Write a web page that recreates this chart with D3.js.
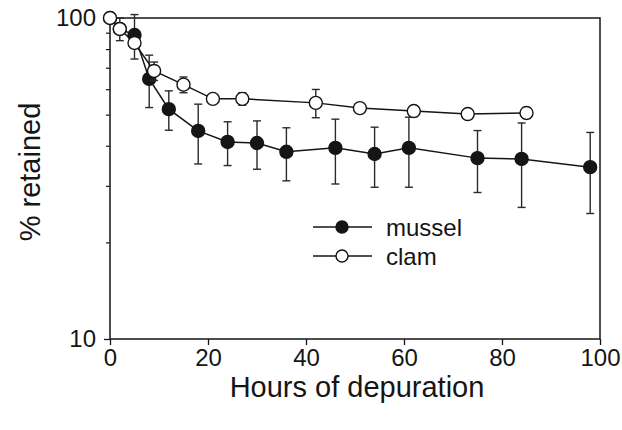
<!DOCTYPE html>
<html>
<head>
<meta charset="utf-8">
<script src="https://cdn.jsdelivr.net/npm/d3@7"></script>
<style>
  html, body { margin: 0; padding: 0; background: #fff; }
  svg { display: block; font-family: "Liberation Sans", Arial, Helvetica, sans-serif; }
</style>
</head>
<body>
<svg id="chart" width="622" height="430"></svg>
<script>
// ---- data ----
const musselHours = [0, 2, 5, 8, 12, 18, 24, 30, 36, 46, 54, 61, 75, 84, 98];
const musselValues = [100, 92.5, 88.5, 64.6, 52.0, 44.5, 41.1, 40.8, 38.3, 39.4, 37.7, 39.4, 36.6, 36.4, 34.3];
const musselErr = [0, 7.5, 14, 12, 7.3, 9.4, 6.4, 7, 7.2, 9, 8, 9.7, 8, 10.7, 9.7];

const clamHours = [0, 2, 5, 9, 15, 21, 27, 42, 51, 62, 73, 85];
const clamValues = [100, 92.4, 83.6, 68.4, 62.0, 56.0, 56.0, 54.4, 52.4, 51.3, 50.2, 50.6];
const clamErr = [0, 3, 3, 4.5, 3.5, 1, 2.5, 5.5, 0.5, 2, 0.5, 2];

const xTicks = [0, 20, 40, 60, 80, 100];
const yMajorTicks = [10, 100];
const yMinorTicks = [20, 30, 40, 50, 60, 70, 80, 90];

const seriesNames = ["mussel", "clam"];

// ---- layout ----
const svg = d3.select("#chart");
const mLeft = 110, mRight = 600, mTop = 18, mBottom = 339;

const x = d3.scaleLinear().domain([0, 100]).range([mLeft, mRight]);
const y = d3.scaleLog().domain([10, 100]).range([mBottom, mTop]);

const ink = "#151515";

// frame
svg.append("rect")
  .attr("x", mLeft).attr("y", mTop)
  .attr("width", mRight - mLeft).attr("height", mBottom - mTop)
  .attr("fill", "none").attr("stroke", ink).attr("stroke-width", 1.5);

// x axis
const xAxis = d3.axisBottom(x).tickValues(xTicks).tickFormat(d3.format("d"))
  .tickSize(6).tickPadding(4);
const gx = svg.append("g").attr("transform", `translate(0,${mBottom})`).call(xAxis);
gx.select(".domain").remove();
gx.selectAll("line").attr("stroke", ink).attr("stroke-width", 1.3);
gx.selectAll("text").attr("font-size", 24).attr("fill", ink)
  .attr("font-family", "Liberation Sans, Arial, sans-serif");

// y axis major
const yAxis = d3.axisLeft(y).tickValues(yMajorTicks).tickFormat(d3.format("d"))
  .tickSize(6).tickPadding(8);
const gy = svg.append("g").attr("transform", `translate(${mLeft},0)`).call(yAxis);
gy.select(".domain").remove();
gy.selectAll("line").attr("stroke", ink).attr("stroke-width", 1.3);
gy.selectAll("text").attr("font-size", 24).attr("fill", ink)
  .attr("font-family", "Liberation Sans, Arial, sans-serif");

// y axis minor
const yMinor = d3.axisLeft(y).tickValues(yMinorTicks).tickFormat("").tickSize(4);
const gym = svg.append("g").attr("transform", `translate(${mLeft},0)`).call(yMinor);
gym.select(".domain").remove();
gym.selectAll("line").attr("stroke", ink).attr("stroke-width", 1.2);

// axis titles
svg.append("text")
  .attr("x", (mLeft + mRight) / 2 + 2).attr("y", 397)
  .attr("text-anchor", "middle").attr("font-size", 29).attr("fill", ink)
  .text("Hours of depuration");
svg.append("text")
  .attr("transform", `translate(40,${172}) rotate(-90)`)
  .attr("text-anchor", "middle").attr("font-size", 29).attr("fill", ink)
  .text("% retained");

// ---- series ----
function drawSeries(hours, values, errs, fill) {
  const pts = hours.map((h, i) => ({ h, v: values[i], e: errs[i] }));
  const g = svg.append("g");
  g.append("path").datum(pts)
    .attr("d", d3.line().x(d => x(d.h)).y(d => y(d.v)))
    .attr("fill", "none").attr("stroke", ink).attr("stroke-width", 1.5);
  const eb = g.selectAll(".eb").data(pts.filter(d => d.e > 0)).enter().append("g");
  eb.append("line")
    .attr("x1", d => x(d.h)).attr("x2", d => x(d.h))
    .attr("y1", d => y(d.v + d.e)).attr("y2", d => y(d.v - d.e))
    .attr("stroke", "#2a2a2a").attr("stroke-width", 1.4);
  eb.append("line")
    .attr("x1", d => x(d.h) - 4).attr("x2", d => x(d.h) + 4)
    .attr("y1", d => y(d.v + d.e)).attr("y2", d => y(d.v + d.e))
    .attr("stroke", "#2a2a2a").attr("stroke-width", 1.4);
  eb.append("line")
    .attr("x1", d => x(d.h) - 4).attr("x2", d => x(d.h) + 4)
    .attr("y1", d => y(d.v - d.e)).attr("y2", d => y(d.v - d.e))
    .attr("stroke", "#2a2a2a").attr("stroke-width", 1.4);
  g.selectAll("circle").data(pts).enter().append("circle")
    .attr("cx", d => x(d.h)).attr("cy", d => y(d.v)).attr("r", 6.5)
    .attr("fill", fill).attr("stroke", ink).attr("stroke-width", 1.4);
}

drawSeries(musselHours, musselValues, musselErr, ink);
drawSeries(clamHours, clamValues, clamErr, "#fff");

// ---- legend ----
const legendFills = [ink, "#fff"];
const lg = svg.append("g");
seriesNames.forEach((name, i) => {
  const cy = 227 + i * 29;
  lg.append("line").attr("x1", 313).attr("x2", 372).attr("y1", cy).attr("y2", cy)
    .attr("stroke", ink).attr("stroke-width", 1.5);
  lg.append("circle").attr("cx", 342).attr("cy", cy).attr("r", 6)
    .attr("fill", legendFills[i]).attr("stroke", ink).attr("stroke-width", 1.4);
  lg.append("text").attr("x", 386).attr("y", cy + 8.5)
    .attr("font-size", 24).attr("fill", ink).text(name);
});
</script>
</body>
</html>
